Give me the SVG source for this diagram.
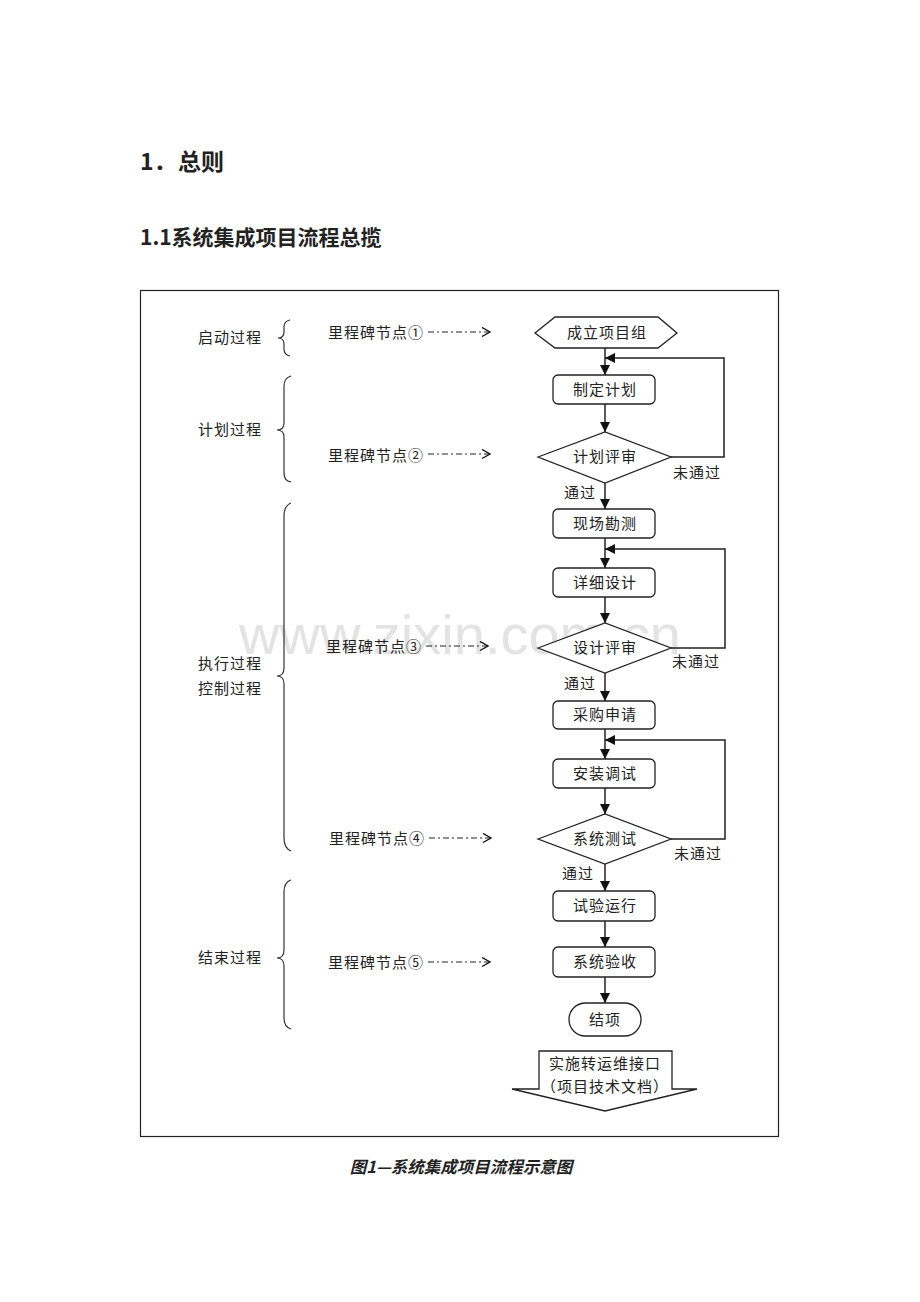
<svg xmlns="http://www.w3.org/2000/svg" width="920" height="1302" viewBox="0 0 920 1302">
<style>
text{font-family:"Noto Sans CJK SC","Noto Sans",sans-serif;fill:#222}
.t{font-size:15px;letter-spacing:1px}
.c{text-anchor:middle}
.n{fill:#fff;stroke:#222;stroke-width:1.3}
.l{fill:none;stroke:#222;stroke-width:1.5}
.ms{fill:none;stroke:#222;stroke-width:1.2;stroke-dasharray:6 3 2 3}
.br{fill:none;stroke:#333;stroke-width:1.2}
</style>
<defs>
<marker id="ah" markerUnits="userSpaceOnUse" markerWidth="12" markerHeight="12" refX="10" refY="5" orient="auto"><path d="M0,0 L10,5 L0,10 Z" fill="#111"/></marker>
<marker id="oh" markerUnits="userSpaceOnUse" markerWidth="12" markerHeight="12" refX="9" refY="5" orient="auto"><path d="M1,0.5 L9,5 L1,9.5" fill="none" stroke="#111" stroke-width="1.4"/></marker>
</defs>
<rect width="920" height="1302" fill="#fff"/>
<text x="460" y="654" text-anchor="middle" style="font-family:'Liberation Sans',sans-serif;font-size:56px;fill:#e3e3e3">www.zixin.com.cn</text>
<g id="headings">
<text x="140" y="170" style="font-size:23px;font-weight:bold">1．</text>
<text x="178" y="170" style="font-size:23px;font-weight:bold">总则</text>
<text x="140" y="245" style="font-size:21px;font-weight:bold">1.1系统集成项目流程总揽</text>
</g>
<rect id="frame" x="140.5" y="290.5" width="638" height="846" fill="none" stroke="#222" stroke-width="1.2"/>
<g id="phases">
<text class="t" x="198" y="343">启动过程</text>
<path class="br" d="M290,320 Q284,321 284,327 L284,332 Q284,338 278,338 Q284,338 284,344 L284,349 Q284,355 290,356"/>
<text class="t" x="198" y="435">计划过程</text>
<path class="br" d="M291,376 Q284,378 284,386 L284,423 Q284,430 277,430 Q284,430 284,437 L284,473 Q284,481 291,482"/>
<text class="t" x="198" y="669">执行过程</text>
<text class="t" x="198" y="694">控制过程</text>
<path class="br" d="M291,503 Q284,506 284,516 L284,668 Q284,676 277,676 Q284,676 284,684 L284,838 Q284,848 291,851"/>
<text class="t" x="198" y="963">结束过程</text>
<path class="br" d="M291,880 Q284,882 284,892 L284,950 Q284,958 277,958 Q284,958 284,966 L284,1018 Q284,1027 291,1029"/>
</g>
<g id="milestones">
<text class="t" x="328" y="338">里程碑节点①</text>
<line class="ms" x1="428" y1="332" x2="490" y2="332" marker-end="url(#oh)"/>
<text class="t" x="328" y="461">里程碑节点②</text>
<line class="ms" x1="428" y1="454" x2="490" y2="454" marker-end="url(#oh)"/>
<text class="t" x="326" y="652">里程碑节点③</text>
<line class="ms" x1="426" y1="646" x2="488" y2="646" marker-end="url(#oh)"/>
<text class="t" x="329" y="844">里程碑节点④</text>
<line class="ms" x1="429" y1="838" x2="491" y2="838" marker-end="url(#oh)"/>
<text class="t" x="328" y="968">里程碑节点⑤</text>
<line class="ms" x1="428" y1="962" x2="490" y2="962" marker-end="url(#oh)"/>
</g>
<g id="connectors">
<line class="l" x1="605" y1="348" x2="605" y2="375" marker-end="url(#ah)"/>
<polyline class="l" points="671,457 724,457 724,358 605,358" marker-end="url(#ah)"/>
<line class="l" x1="605" y1="404" x2="605" y2="432" marker-end="url(#ah)"/>
<line class="l" x1="605" y1="483" x2="605" y2="509" marker-end="url(#ah)"/>
<line class="l" x1="605" y1="538" x2="605" y2="568" marker-end="url(#ah)"/>
<polyline class="l" points="671,648 725,648 725,549 605,549" marker-end="url(#ah)"/>
<line class="l" x1="605" y1="597" x2="605" y2="623" marker-end="url(#ah)"/>
<line class="l" x1="605" y1="673" x2="605" y2="701" marker-end="url(#ah)"/>
<line class="l" x1="605" y1="729" x2="605" y2="759" marker-end="url(#ah)"/>
<polyline class="l" points="671,839 725,839 725,740 605,740" marker-end="url(#ah)"/>
<line class="l" x1="605" y1="788" x2="605" y2="814" marker-end="url(#ah)"/>
<line class="l" x1="605" y1="864" x2="605" y2="891" marker-end="url(#ah)"/>
<line class="l" x1="605" y1="921" x2="605" y2="947" marker-end="url(#ah)"/>
<line class="l" x1="605" y1="977" x2="605" y2="1003" marker-end="url(#ah)"/>
<text class="t" x="673" y="478">未通过</text>
<text class="t" x="564" y="498">通过</text>
<text class="t" x="672" y="667">未通过</text>
<text class="t" x="564" y="689">通过</text>
<text class="t" x="674" y="859">未通过</text>
<text class="t" x="562" y="879">通过</text>
</g>
<g id="n1"><polygon class="n" points="535,333 555,317 658,317 677,333 658,348 555,348"/><text class="t c" x="607" y="338">成立项目组</text></g>
<g id="n2"><rect class="n" x="553" y="375" width="102" height="29" rx="5"/><text class="t c" x="605" y="395">制定计划</text></g>
<g id="n3"><polygon class="n" points="538,457 605,432 671,457 605,483"/><text class="t c" x="605" y="462">计划评审</text></g>
<g id="n4"><rect class="n" x="553" y="509" width="102" height="29" rx="5"/><text class="t c" x="605" y="529">现场勘测</text></g>
<g id="n5"><rect class="n" x="553" y="568" width="102" height="29" rx="5"/><text class="t c" x="605" y="588">详细设计</text></g>
<g id="n6"><polygon class="n" points="538,648 605,623 671,648 605,673"/><text class="t c" x="605" y="653">设计评审</text></g>
<g id="n7"><rect class="n" x="553" y="701" width="102" height="28" rx="5"/><text class="t c" x="605" y="720">采购申请</text></g>
<g id="n8"><rect class="n" x="553" y="759" width="102" height="29" rx="5"/><text class="t c" x="605" y="779">安装调试</text></g>
<g id="n9"><polygon class="n" points="538,839 605,814 671,839 605,864"/><text class="t c" x="605" y="844">系统测试</text></g>
<g id="n10"><rect class="n" x="553" y="891" width="102" height="30" rx="5"/><text class="t c" x="605" y="911">试验运行</text></g>
<g id="n11"><rect class="n" x="553" y="947" width="102" height="30" rx="5"/><text class="t c" x="605" y="967">系统验收</text></g>
<g id="n12"><rect class="n" x="569" y="1003" width="72" height="33" rx="16.5"/><text class="t c" x="605" y="1025">结项</text></g>
<g id="n13"><polygon class="n" points="539,1051 672,1051 672,1089 697,1089 605,1111 512,1089 539,1089"/><text class="t c" x="605" y="1069">实施转运维接口</text><text class="t c" x="605" y="1092">（项目技术文档）</text></g>
<text x="461" y="1173" text-anchor="middle" style="font-size:16.5px;font-weight:bold;font-style:italic">图1—系统集成项目流程示意图</text>
</svg>
